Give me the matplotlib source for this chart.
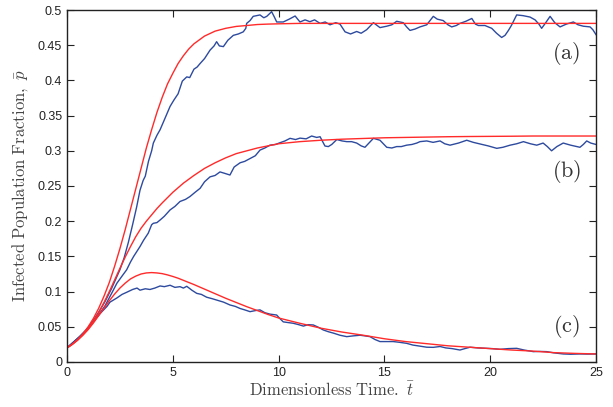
import matplotlib
matplotlib.use('Agg')
import matplotlib.pyplot as plt
from matplotlib.ticker import FormatStrFormatter

plt.rcParams['mathtext.fontset'] = 'cm'

# smooth (mean-field) curves
t_red = [0, 0.25, 0.5, 0.75, 1, 1.25, 1.5, 1.75, 2, 2.25, 2.5, 2.75, 3, 3.25, 3.5, 3.75, 4,
         4.25, 4.5, 4.75, 5, 5.25, 5.5, 5.75, 6, 6.5, 7, 7.5, 8, 8.5, 9, 9.5,
         10, 11, 12, 13, 14, 15, 16, 17, 18, 19, 20, 21, 22, 23, 24, 25]
red_a = [0.020, 0.0253, 0.032, 0.040, 0.050, 0.062, 0.0765, 0.0936, 0.113, 0.136, 0.161, 0.188,
         0.217, 0.246, 0.275, 0.304, 0.330, 0.3545, 0.376, 0.395, 0.410, 0.424, 0.435, 0.4445,
         0.452, 0.463, 0.470, 0.474, 0.4767, 0.478, 0.4794, 0.480, 0.4804, 0.481, 0.481, 0.481,
         0.481, 0.481, 0.481, 0.481, 0.481, 0.481, 0.481, 0.481, 0.481, 0.481, 0.481, 0.481]
red_b = [0.020, 0.025, 0.031, 0.0385, 0.047, 0.058, 0.070, 0.0845, 0.100, 0.1165, 0.133, 0.149,
         0.164, 0.178, 0.190, 0.200, 0.209, 0.218, 0.226, 0.2335, 0.241, 0.2475, 0.254, 0.2595,
         0.265, 0.275, 0.283, 0.290, 0.296, 0.300, 0.304, 0.307, 0.310, 0.313, 0.315, 0.3165,
         0.3175, 0.3185, 0.319, 0.3195, 0.320, 0.3203, 0.3205, 0.3207, 0.321, 0.321, 0.321, 0.321]
red_c = [0.020, 0.025, 0.031, 0.038, 0.046, 0.0555, 0.066, 0.0765, 0.087, 0.0965, 0.105, 0.112,
         0.118, 0.122, 0.125, 0.1265, 0.127, 0.1265, 0.1255, 0.1237, 0.1215, 0.119, 0.116, 0.113,
         0.110, 0.1035, 0.097, 0.0905, 0.0845, 0.0785, 0.073, 0.0675, 0.0625, 0.055, 0.048,
         0.0425, 0.038, 0.033, 0.029, 0.026, 0.023, 0.021, 0.019, 0.017, 0.0155, 0.0133, 0.0122,
         0.0114]

# stochastic simulation curves
t_a = [0, 0.3, 0.6, 0.9, 1.2, 1.5, 1.8, 2.1, 2.5, 2.7, 2.9, 3.1, 3.29, 3.45, 3.6, 3.7, 3.85,
       4.0, 4.08, 4.25, 4.4, 4.6, 4.87, 5.05, 5.25, 5.45, 5.66, 5.8, 6.0, 6.15, 6.29, 6.5, 6.76,
       6.95, 7.07, 7.2, 7.39, 7.6, 7.86, 8.1, 8.33, 8.45, 8.49, 8.65, 8.8, 9.12, 9.3, 9.44, 9.67,
       9.8, 9.91, 10.22, 10.5, 10.78, 11.01, 11.25, 11.48, 11.7, 11.96, 12.2, 12.43, 12.7, 12.9,
       13.14, 13.4, 13.69, 13.9, 14.16, 14.48, 14.79, 15.11, 15.35, 15.58, 15.89, 16.05, 16.21,
       16.45, 16.68, 17.0, 17.31, 17.5, 17.78, 18.0, 18.18, 18.4, 18.57, 18.85, 19.13, 19.3,
       19.44, 19.75, 20.07, 20.3, 20.54, 20.7, 20.86, 21.0, 21.25, 21.55, 21.88, 22.12, 22.3,
       22.43, 22.6, 22.83, 23.05, 23.3, 23.6, 23.93, 24.15, 24.4, 24.72, 24.85, 25.0]
blue_a = [0.020, 0.028, 0.036, 0.045, 0.057, 0.071, 0.086, 0.104, 0.131, 0.148, 0.170, 0.195,
          0.220, 0.244, 0.258, 0.264, 0.285, 0.300, 0.311, 0.322, 0.330, 0.344, 0.363, 0.372,
          0.381, 0.399, 0.405, 0.404, 0.416, 0.419, 0.424, 0.431, 0.443, 0.449, 0.455, 0.449,
          0.448, 0.457, 0.464, 0.466, 0.469, 0.474, 0.481, 0.485, 0.491, 0.493, 0.489, 0.491,
          0.4976, 0.490, 0.483, 0.483, 0.487, 0.4915, 0.483, 0.486, 0.4834, 0.486, 0.481, 0.483,
          0.479, 0.482, 0.480, 0.469, 0.466, 0.4695, 0.467, 0.472, 0.482, 0.475, 0.477, 0.479,
          0.484, 0.482, 0.476, 0.471, 0.473, 0.476, 0.479, 0.491, 0.487, 0.485, 0.479, 0.476,
          0.478, 0.481, 0.484, 0.488, 0.480, 0.478, 0.478, 0.474, 0.467, 0.461, 0.464, 0.471,
          0.478, 0.493, 0.492, 0.490, 0.486, 0.480, 0.474, 0.481, 0.491, 0.482, 0.476, 0.480,
          0.483, 0.479, 0.477, 0.476, 0.472, 0.465]

t_b = [0, 0.3, 0.6, 0.9, 1.2, 1.5, 1.8, 2.1, 2.36, 2.6, 2.82, 3.0, 3.15, 3.3, 3.45, 3.62, 3.84,
       4.0, 4.08, 4.25, 4.4, 4.6, 4.87, 5.1, 5.34, 5.6, 5.81, 6.05, 6.29, 6.5, 6.76, 7.0, 7.23,
       7.45, 7.7, 7.9, 8.18, 8.4, 8.65, 8.9, 9.12, 9.35, 9.59, 9.85, 10.07, 10.3, 10.54, 10.8,
       11.01, 11.3, 11.56, 11.8, 11.96, 12.1, 12.19, 12.35, 12.51, 12.75, 13.0, 13.22, 13.45,
       13.69, 13.9, 14.08, 14.3, 14.48, 14.79, 14.95, 15.11, 15.35, 15.58, 15.8, 16.05, 16.3,
       16.53, 16.68, 17.0, 17.3, 17.63, 17.85, 18.1, 18.5, 18.89, 19.2, 19.52, 19.9, 20.31,
       20.6, 20.94, 21.25, 21.57, 21.9, 22.2, 22.5, 22.7, 22.9, 23.15, 23.45, 23.8, 24.24, 24.4,
       24.56, 24.75, 25.0]
blue_b = [0.020, 0.028, 0.036, 0.045, 0.055, 0.067, 0.080, 0.097, 0.112, 0.122, 0.131, 0.142,
          0.150, 0.157, 0.164, 0.173, 0.183, 0.195, 0.197, 0.198, 0.2017, 0.207, 0.216, 0.221,
          0.228, 0.231, 0.235, 0.241, 0.2467, 0.256, 0.263, 0.265, 0.270, 0.268, 0.2656, 0.277,
          0.283, 0.285, 0.289, 0.293, 0.301, 0.304, 0.308, 0.309, 0.3115, 0.314, 0.3177, 0.316,
          0.318, 0.317, 0.321, 0.319, 0.320, 0.312, 0.3068, 0.306, 0.309, 0.316, 0.314, 0.313,
          0.313, 0.311, 0.307, 0.305, 0.312, 0.3177, 0.315, 0.310, 0.305, 0.304, 0.306, 0.306,
          0.308, 0.309, 0.311, 0.313, 0.314, 0.312, 0.314, 0.310, 0.308, 0.311, 0.315, 0.312,
          0.3097, 0.307, 0.3035, 0.305, 0.308, 0.310, 0.313, 0.310, 0.308, 0.311, 0.306, 0.300,
          0.306, 0.311, 0.308, 0.305, 0.309, 0.314, 0.311, 0.309]

t_c = [0, 0.3, 0.6, 0.9, 1.2, 1.57, 1.89, 2.03, 2.36, 2.6, 2.82, 3.1, 3.31, 3.45, 3.7, 3.92,
       4.15, 4.4, 4.6, 4.87, 5.1, 5.34, 5.5, 5.66, 5.9, 6.13, 6.35, 6.6, 6.85, 7.07, 7.4, 7.7,
       7.95, 8.18, 8.4, 8.65, 8.9, 9.12, 9.35, 9.59, 9.91, 10.05, 10.22, 10.45, 10.69, 10.95,
       11.17, 11.4, 11.64, 11.9, 12.11, 12.35, 12.59, 12.9, 13.22, 13.5, 13.85, 14.1, 14.32,
       14.55, 14.79, 15.1, 15.42, 15.7, 16.05, 16.35, 16.68, 17.0, 17.31, 17.63, 17.9, 18.2,
       18.57, 18.8, 19.05, 19.4, 19.83, 20.1, 20.46, 20.85, 21.25, 21.6, 22.04, 22.35, 22.67,
       23.0, 23.45, 23.8, 24.24, 24.6, 25.0]
blue_c = [0.020, 0.028, 0.036, 0.045, 0.056, 0.069, 0.079, 0.085, 0.091, 0.096, 0.099, 0.103,
          0.105, 0.102, 0.104, 0.103, 0.105, 0.108, 0.107, 0.109, 0.106, 0.107, 0.105, 0.1075,
          0.102, 0.0975, 0.096, 0.092, 0.090, 0.088, 0.085, 0.081, 0.079, 0.076, 0.074, 0.0715,
          0.073, 0.074, 0.070, 0.068, 0.0667, 0.062, 0.057, 0.056, 0.055, 0.053, 0.051, 0.053,
          0.0526, 0.049, 0.0455, 0.043, 0.041, 0.038, 0.036, 0.037, 0.038, 0.037, 0.036, 0.032,
          0.029, 0.029, 0.029, 0.028, 0.0265, 0.024, 0.0225, 0.021, 0.0208, 0.022, 0.020, 0.019,
          0.017, 0.019, 0.021, 0.020, 0.0194, 0.019, 0.018, 0.019, 0.0194, 0.017, 0.0147, 0.015,
          0.0147, 0.013, 0.0114, 0.011, 0.0114, 0.0112, 0.0114]

labels = ['(a)', '(b)', '(c)']
label_y = [0.438, 0.270, 0.050]

red = '#ff2a2a'
blue = '#2d4a9e'

fig = plt.figure(figsize=(6.13, 4.07), dpi=100)
ax = fig.add_axes([0.1093, 0.1106, 0.8630, 0.8648])

ax.plot(t_a, blue_a, color=blue, lw=1.0)
ax.plot(t_b, blue_b, color=blue, lw=1.0)
ax.plot(t_c, blue_c, color=blue, lw=1.0)
ax.plot(t_red, red_a, color=red, lw=1.0)
ax.plot(t_red, red_b, color=red, lw=1.0)
ax.plot(t_red, red_c, color=red, lw=1.0)

for lab, ly in zip(labels, label_y):
    ax.text(23.6, ly, '$\\mathrm{' + lab + '}$', fontsize=16, ha='center', va='center',
            color='#333333')

ax.set_xlim(0, 25)
ax.set_ylim(0, 0.5)
ax.set_xticks([0, 5, 10, 15, 20, 25])
ax.set_yticks([0, 0.05, 0.1, 0.15, 0.2, 0.25, 0.3, 0.35, 0.4, 0.45, 0.5])
ax.yaxis.set_major_formatter(FormatStrFormatter('%g'))
ax.tick_params(direction='in', top=True, right=True, length=5, width=0.8,
               labelsize=9, colors='#222222')
for lbl in ax.get_xticklabels() + ax.get_yticklabels():
    lbl.set_family('Liberation Sans')
for s in ax.spines.values():
    s.set_linewidth(1.0)
    s.set_color('#222222')

ax.set_xlabel('$\\mathrm{Dimensionless\\ Time.}\\ \\bar{t}$', fontsize=12, color='#444444',
              labelpad=2)
ax.set_ylabel('$\\mathrm{Infected\\ Population\\ Fraction,}\\ \\bar{p}$', fontsize=12,
              color='#444444', labelpad=6)

fig.savefig('out.png', dpi=100)
